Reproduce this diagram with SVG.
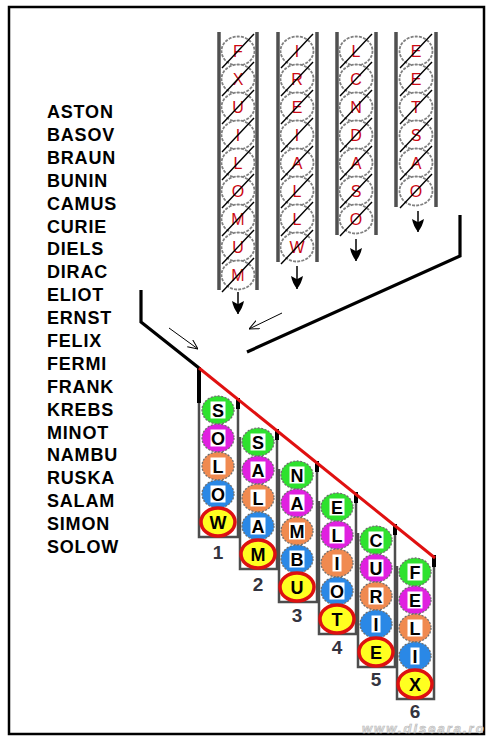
<svg xmlns="http://www.w3.org/2000/svg" xmlns:xlink="http://www.w3.org/1999/xlink" width="495" height="745" viewBox="0 0 495 745">
<style>
.frame{fill:#fff;stroke:#000;stroke-width:2.5}
.wall{stroke:#505050;stroke-width:3.5;fill:none}
.tc{fill:#fff;stroke:#808080;stroke-width:1.8;stroke-dasharray:3 1.2}
.tl{font-family:"Liberation Sans",Arial,sans-serif;font-size:16px;fill:#cc0a14;text-anchor:middle}
.st{stroke:#000;stroke-width:1.4}
.bw{stroke:#4d4d4d;stroke-width:2.5;fill:none}
.bk{stroke:#000;stroke-width:4}
.bc{stroke:#707070;stroke-width:1.3;stroke-dasharray:2 1.5}
.g{fill:#2ee22e}.m{fill:#e020e0}.o{fill:#f08a50}.b{fill:#2a88e6}.y{fill:#ffff20}
.ring{fill:none;stroke:#dd1111;stroke-width:3.5}
.bg{fill:#fff}
.bl{font-family:"Liberation Sans",Arial,sans-serif;font-weight:bold;font-size:18px;fill:#000;text-anchor:middle}
.num{font-family:"Liberation Sans",Arial,sans-serif;font-weight:bold;font-size:19px;fill:#34343f;text-anchor:middle}
.names{font-family:"Liberation Sans",Arial,sans-serif;font-weight:bold;font-size:18px;fill:#000;letter-spacing:0.8px}
.thick{stroke:#000;stroke-width:3.2;fill:none}
.thin{stroke:#000;stroke-width:1;fill:none}
.dn{stroke:#000;stroke-width:1.5}
</style>
<defs>
<marker id="head" viewBox="0 -6 12 12" refX="12" refY="0" markerWidth="13" markerHeight="13" markerUnits="userSpaceOnUse" orient="auto">
<path d="M0,-5.5 Q6,-4.5 12,0 Q6,4.5 0,5.5 L3,0 Z" fill="#000"/>
</marker>
<marker id="open" viewBox="0 -5 10 10" refX="10" refY="0" markerWidth="10" markerHeight="10" markerUnits="userSpaceOnUse" orient="auto">
<path d="M0,-4.5 L10,0 L0,4.5" fill="none" stroke="#000" stroke-width="1"/>
</marker>
</defs>
<rect class="frame" x="9" y="7" width="475" height="727"/>

<g id="names">
<text class="names" x="47" y="118">ASTON<tspan x="47" dy="22.9">BASOV</tspan><tspan x="47" dy="22.9">BRAUN</tspan><tspan x="47" dy="22.9">BUNIN</tspan><tspan x="47" dy="22.9">CAMUS</tspan><tspan x="47" dy="22.9">CURIE</tspan><tspan x="47" dy="22.9">DIELS</tspan><tspan x="47" dy="22.9">DIRAC</tspan><tspan x="47" dy="22.9">ELIOT</tspan><tspan x="47" dy="22.9">ERNST</tspan><tspan x="47" dy="22.9">FELIX</tspan><tspan x="47" dy="22.9">FERMI</tspan><tspan x="47" dy="22.9">FRANK</tspan><tspan x="47" dy="22.9">KREBS</tspan><tspan x="47" dy="22.9">MINOT</tspan><tspan x="47" dy="22.9">NAMBU</tspan><tspan x="47" dy="22.9">RUSKA</tspan><tspan x="47" dy="22.9">SALAM</tspan><tspan x="47" dy="22.9">SIMON</tspan><tspan x="47" dy="22.9">SOLOW</tspan></text>
</g>

<g id="top-tube-1">
<path class="wall" d="M219,32 V290 M257,32 V290"/>
<ellipse class="tc" cx="238" cy="51" rx="16.5" ry="14.5"/><text class="tl" x="238" y="57">F</text><path class="st" d="M222,68 L254,34"/>
<ellipse class="tc" cx="238" cy="79" rx="16.5" ry="14.5"/><text class="tl" x="238" y="85">X</text><path class="st" d="M222,96 L254,62"/>
<ellipse class="tc" cx="238" cy="107" rx="16.5" ry="14.5"/><text class="tl" x="238" y="113">U</text><path class="st" d="M222,124 L254,90"/>
<ellipse class="tc" cx="238" cy="135" rx="16.5" ry="14.5"/><text class="tl" x="238" y="141">I</text><path class="st" d="M222,152 L254,118"/>
<ellipse class="tc" cx="238" cy="163" rx="16.5" ry="14.5"/><text class="tl" x="238" y="169">L</text><path class="st" d="M222,180 L254,146"/>
<ellipse class="tc" cx="238" cy="191" rx="16.5" ry="14.5"/><text class="tl" x="238" y="197">O</text><path class="st" d="M222,208 L254,174"/>
<ellipse class="tc" cx="238" cy="219" rx="16.5" ry="14.5"/><text class="tl" x="238" y="225">M</text><path class="st" d="M222,236 L254,202"/>
<ellipse class="tc" cx="238" cy="247" rx="16.5" ry="14.5"/><text class="tl" x="238" y="253">U</text><path class="st" d="M222,264 L254,230"/>
<ellipse class="tc" cx="238" cy="275" rx="16.5" ry="14.5"/><text class="tl" x="238" y="281">M</text><path class="st" d="M222,292 L254,258"/>
</g>

<g id="top-tube-2">
<path class="wall" d="M278,32 V262 M317,32 V262"/>
<ellipse class="tc" cx="297" cy="51" rx="16.5" ry="14.5"/><text class="tl" x="297" y="57">I</text><path class="st" d="M281,68 L313,34"/>
<ellipse class="tc" cx="297" cy="79" rx="16.5" ry="14.5"/><text class="tl" x="297" y="85">R</text><path class="st" d="M281,96 L313,62"/>
<ellipse class="tc" cx="297" cy="107" rx="16.5" ry="14.5"/><text class="tl" x="297" y="113">E</text><path class="st" d="M281,124 L313,90"/>
<ellipse class="tc" cx="297" cy="135" rx="16.5" ry="14.5"/><text class="tl" x="297" y="141">I</text><path class="st" d="M281,152 L313,118"/>
<ellipse class="tc" cx="297" cy="163" rx="16.5" ry="14.5"/><text class="tl" x="297" y="169">A</text><path class="st" d="M281,180 L313,146"/>
<ellipse class="tc" cx="297" cy="191" rx="16.5" ry="14.5"/><text class="tl" x="297" y="197">L</text><path class="st" d="M281,208 L313,174"/>
<ellipse class="tc" cx="297" cy="219" rx="16.5" ry="14.5"/><text class="tl" x="297" y="225">L</text><path class="st" d="M281,236 L313,202"/>
<ellipse class="tc" cx="297" cy="247" rx="16.5" ry="14.5"/><text class="tl" x="297" y="253">W</text><path class="st" d="M281,264 L313,230"/>
</g>

<g id="top-tube-3">
<path class="wall" d="M337,32 V235 M376,32 V235"/>
<ellipse class="tc" cx="356" cy="51" rx="16.5" ry="14.5"/><text class="tl" x="356" y="57">L</text><path class="st" d="M340,68 L372,34"/>
<ellipse class="tc" cx="356" cy="79" rx="16.5" ry="14.5"/><text class="tl" x="356" y="85">C</text><path class="st" d="M340,96 L372,62"/>
<ellipse class="tc" cx="356" cy="107" rx="16.5" ry="14.5"/><text class="tl" x="356" y="113">N</text><path class="st" d="M340,124 L372,90"/>
<ellipse class="tc" cx="356" cy="135" rx="16.5" ry="14.5"/><text class="tl" x="356" y="141">D</text><path class="st" d="M340,152 L372,118"/>
<ellipse class="tc" cx="356" cy="163" rx="16.5" ry="14.5"/><text class="tl" x="356" y="169">A</text><path class="st" d="M340,180 L372,146"/>
<ellipse class="tc" cx="356" cy="191" rx="16.5" ry="14.5"/><text class="tl" x="356" y="197">S</text><path class="st" d="M340,208 L372,174"/>
<ellipse class="tc" cx="356" cy="219" rx="16.5" ry="14.5"/><text class="tl" x="356" y="225">O</text><path class="st" d="M340,236 L372,202"/>
</g>

<g id="top-tube-4">
<path class="wall" d="M396,32 V207 M436,32 V207"/>
<ellipse class="tc" cx="416" cy="51" rx="16.5" ry="14.5"/><text class="tl" x="416" y="57">E</text><path class="st" d="M400,68 L432,34"/>
<ellipse class="tc" cx="416" cy="79" rx="16.5" ry="14.5"/><text class="tl" x="416" y="85">E</text><path class="st" d="M400,96 L432,62"/>
<ellipse class="tc" cx="416" cy="107" rx="16.5" ry="14.5"/><text class="tl" x="416" y="113">T</text><path class="st" d="M400,124 L432,90"/>
<ellipse class="tc" cx="416" cy="135" rx="16.5" ry="14.5"/><text class="tl" x="416" y="141">S</text><path class="st" d="M400,152 L432,118"/>
<ellipse class="tc" cx="416" cy="163" rx="16.5" ry="14.5"/><text class="tl" x="416" y="169">A</text><path class="st" d="M400,180 L432,146"/>
<ellipse class="tc" cx="416" cy="191" rx="16.5" ry="14.5"/><text class="tl" x="416" y="197">O</text><path class="st" d="M400,208 L432,174"/>
</g>

<g id="connectors">
<path class="thick" d="M141,290 V322 L199,368"/>
<path class="thick" d="M460,215 V256 L247,352"/>
<path class="thin" d="M169,328 L198,349" marker-end="url(#open)"/>
<path class="thin" d="M282,313 L249,329" marker-end="url(#open)"/>
<path class="dn" d="M238,292 V314" marker-end="url(#head)"/>
<path class="dn" d="M297,266 V289" marker-end="url(#head)"/>
<path class="dn" d="M356,239 V261" marker-end="url(#head)"/>
<path class="dn" d="M418,211 V232" marker-end="url(#head)"/>
</g>

<g id="tube-1">
<path class="bw" d="M199,400 V537 H238 V400"/>
<path class="bk" d="M199,367 V403 M238,398 V409"/>
<ellipse class="g bc" cx="218" cy="410" rx="16" ry="14"/><rect class="bg" x="210.5" y="401.5" width="15" height="17"/><text class="bl" x="218" y="416.5">S</text>
<ellipse class="m bc" cx="218" cy="438" rx="16" ry="14"/><rect class="bg" x="210.5" y="429.5" width="15" height="17"/><text class="bl" x="218" y="444.5">O</text>
<ellipse class="o bc" cx="218" cy="466" rx="16" ry="14"/><rect class="bg" x="210.5" y="457.5" width="15" height="17"/><text class="bl" x="218" y="472.5">L</text>
<ellipse class="b bc" cx="218" cy="494" rx="16" ry="14"/><rect class="bg" x="210.5" y="485.5" width="15" height="17"/><text class="bl" x="218" y="500.5">O</text>
<ellipse class="y" cx="218" cy="522" rx="16" ry="13.5"/><ellipse class="ring" cx="218" cy="522" rx="17" ry="14"/><text class="bl" x="218" y="528.5">W</text>
<text class="num" x="218" y="559">1</text>
</g>

<g id="tube-2">
<path class="bw" d="M240,437 V569 H277 V431"/>
<path class="bk" d="M277,429 V440"/>
<ellipse class="g bc" cx="258" cy="442" rx="16" ry="14"/><rect class="bg" x="250.5" y="433.5" width="15" height="17"/><text class="bl" x="258" y="448.5">S</text>
<ellipse class="m bc" cx="258" cy="470" rx="16" ry="14"/><rect class="bg" x="250.5" y="461.5" width="15" height="17"/><text class="bl" x="258" y="476.5">A</text>
<ellipse class="o bc" cx="258" cy="498" rx="16" ry="14"/><rect class="bg" x="250.5" y="489.5" width="15" height="17"/><text class="bl" x="258" y="504.5">L</text>
<ellipse class="b bc" cx="258" cy="526" rx="16" ry="14"/><rect class="bg" x="250.5" y="517.5" width="15" height="17"/><text class="bl" x="258" y="532.5">A</text>
<ellipse class="y" cx="258" cy="554" rx="16" ry="13.5"/><ellipse class="ring" cx="258" cy="554" rx="17" ry="14"/><text class="bl" x="258" y="560.5">M</text>
<text class="num" x="258" y="591">2</text>
</g>

<g id="tube-3">
<path class="bw" d="M279,469 V602 H317 V463"/>
<path class="bk" d="M317,461 V472"/>
<ellipse class="g bc" cx="297" cy="475" rx="16" ry="14"/><rect class="bg" x="289.5" y="466.5" width="15" height="17"/><text class="bl" x="297" y="481.5">N</text>
<ellipse class="m bc" cx="297" cy="503" rx="16" ry="14"/><rect class="bg" x="289.5" y="494.5" width="15" height="17"/><text class="bl" x="297" y="509.5">A</text>
<ellipse class="o bc" cx="297" cy="531" rx="16" ry="14"/><rect class="bg" x="289" y="522.5" width="16" height="17"/><text class="bl" x="297" y="537.5">M</text>
<ellipse class="b bc" cx="297" cy="559" rx="16" ry="14"/><rect class="bg" x="289.5" y="550.5" width="15" height="17"/><text class="bl" x="297" y="565.5">B</text>
<ellipse class="y" cx="297" cy="587" rx="16" ry="13.5"/><ellipse class="ring" cx="297" cy="587" rx="17" ry="14"/><text class="bl" x="297" y="593.5">U</text>
<text class="num" x="297" y="622">3</text>
</g>

<g id="tube-4">
<path class="bw" d="M319,501 V634 H356 V494"/>
<path class="bk" d="M356,492 V503"/>
<ellipse class="g bc" cx="337" cy="507" rx="16" ry="14"/><rect class="bg" x="329.5" y="498.5" width="15" height="17"/><text class="bl" x="337" y="513.5">E</text>
<ellipse class="m bc" cx="337" cy="535" rx="16" ry="14"/><rect class="bg" x="329.5" y="526.5" width="15" height="17"/><text class="bl" x="337" y="541.5">L</text>
<ellipse class="o bc" cx="337" cy="563" rx="16" ry="14"/><rect class="bg" x="332.5" y="554.5" width="9" height="17"/><text class="bl" x="337" y="569.5">I</text>
<ellipse class="b bc" cx="337" cy="591" rx="16" ry="14"/><rect class="bg" x="329.5" y="582.5" width="15" height="17"/><text class="bl" x="337" y="597.5">O</text>
<ellipse class="y" cx="337" cy="619" rx="16" ry="13.5"/><ellipse class="ring" cx="337" cy="619" rx="17" ry="14"/><text class="bl" x="337" y="625.5">T</text>
<text class="num" x="337" y="654">4</text>
</g>

<g id="tube-5">
<path class="bw" d="M358,533 V667 H395 V526"/>
<path class="bk" d="M395,524 V535"/>
<ellipse class="g bc" cx="376" cy="540" rx="16" ry="14"/><rect class="bg" x="368.5" y="531.5" width="15" height="17"/><text class="bl" x="376" y="546.5">C</text>
<ellipse class="m bc" cx="376" cy="568" rx="16" ry="14"/><rect class="bg" x="368.5" y="559.5" width="15" height="17"/><text class="bl" x="376" y="574.5">U</text>
<ellipse class="o bc" cx="376" cy="596" rx="16" ry="14"/><rect class="bg" x="368.5" y="587.5" width="15" height="17"/><text class="bl" x="376" y="602.5">R</text>
<ellipse class="b bc" cx="376" cy="624" rx="16" ry="14"/><rect class="bg" x="371.5" y="615.5" width="9" height="17"/><text class="bl" x="376" y="630.5">I</text>
<ellipse class="y" cx="376" cy="652" rx="16" ry="13.5"/><ellipse class="ring" cx="376" cy="652" rx="17" ry="14"/><text class="bl" x="376" y="658.5">E</text>
<text class="num" x="376" y="686">5</text>
</g>

<g id="tube-6">
<path class="bw" d="M397,566 V699 H434 V557"/>
<path class="bk" d="M434,555 V567"/>
<ellipse class="g bc" cx="415" cy="572" rx="16" ry="14"/><rect class="bg" x="407.5" y="563.5" width="15" height="17"/><text class="bl" x="415" y="578.5">F</text>
<ellipse class="m bc" cx="415" cy="600" rx="16" ry="14"/><rect class="bg" x="407.5" y="591.5" width="15" height="17"/><text class="bl" x="415" y="606.5">E</text>
<ellipse class="o bc" cx="415" cy="628" rx="16" ry="14"/><rect class="bg" x="407.5" y="619.5" width="15" height="17"/><text class="bl" x="415" y="634.5">L</text>
<ellipse class="b bc" cx="415" cy="656" rx="16" ry="14"/><rect class="bg" x="410.5" y="647.5" width="9" height="17"/><text class="bl" x="415" y="662.5">I</text>
<ellipse class="y" cx="415" cy="684" rx="16" ry="13.5"/><ellipse class="ring" cx="415" cy="684" rx="17" ry="14"/><text class="bl" x="415" y="690.5">X</text>
<text class="num" x="415" y="718">6</text>
</g>

<g id="red-line">
<path d="M199,368 L435,558" stroke="#e01010" stroke-width="3" fill="none"/>
</g>

<text x="362" y="733" font-family="'Liberation Sans',Arial,sans-serif" font-size="13" font-weight="bold" font-style="italic" letter-spacing="2" fill="#e6e6e6" stroke="#b8b8b8" stroke-width="0.6">www.diseara.ro</text>
</svg>
